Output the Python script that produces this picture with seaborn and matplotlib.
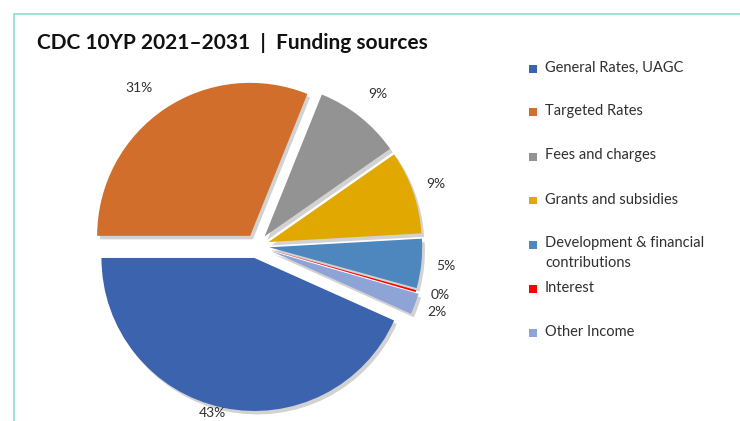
import textwrap
import matplotlib
matplotlib.use("Agg")
import matplotlib.pyplot as plt
import matplotlib.patheffects as pe
from matplotlib.patches import Rectangle
from matplotlib.lines import Line2D
import numpy as np
import seaborn as sns

# Funding sources, share of total (%)
categories = [
    "General Rates, UAGC",
    "Targeted Rates",
    "Fees and charges",
    "Grants and subsidies",
    "Development & financial contributions",
    "Interest",
    "Other Income",
]
shares = [43.3, 31.1, 9.2, 8.8, 5.2, 0.2, 2.2]
title = "CDC 10YP 2021\u20132031  |  Funding sources"

palette = sns.color_palette(
    ["#3c64ae", "#d26e2b", "#939393", "#e0a800", "#4e87be", "#ff0000", "#8fa4d6"]
)

sns.set_theme(style="white")
plt.rcParams["font.family"] = ["Lato", "DejaVu Sans"]

W, H = 740, 421
fig = plt.figure(figsize=(W / 100, H / 100), dpi=100)
fig.patch.set_facecolor("white")

# chart frame (left and top edges)
frame_col = "#8fdcd0"
fig.add_artist(Line2D([14 / W, 14 / W], [0, 1 - 14 / H], color=frame_col, lw=1.2,
                      transform=fig.transFigure))
fig.add_artist(Line2D([14 / W, 1], [1 - 14 / H, 1 - 14 / H], color=frame_col, lw=1.2,
                      transform=fig.transFigure))

fig.text(37 / W, 1 - 43 / H, title, fontsize=15, fontweight="bold",
         color="#111111", va="center", ha="left")

# pie axes: 1 data unit = R pixels, centred at (cx, cy) in pixel coords
R = 153
cx, cy = 257, 246
half = 1.6
ax = fig.add_axes([(cx - half * R) / W, (H - cy - half * R) / H,
                   2 * half * R / W, 2 * half * R / H])

start = 180 + 360 * shares[0] / 100.0
explode = [0.08, 0.08, 0.08, 0.08, 0.08, 0.08, 0.1]
wedges, _ = ax.pie(
    shares, colors=palette, startangle=start, counterclock=False,
    explode=explode, radius=1.0,
    wedgeprops=dict(linewidth=0, clip_on=False),
)
ax.set_xlim(-half, half)
ax.set_ylim(-half, half)
ax.set_aspect("equal")
ax.axis("off")

shadow = [pe.SimplePatchShadow(offset=(2, -2.5), shadow_rgbFace="#808080", alpha=0.35),
          pe.Normal()]
for w in wedges:
    w.set_path_effects(shadow)

# percentage labels just outside each slice
label_dist = [1.05, 1.21, 1.19, 1.16, 1.16, 1.16, 1.15]
angle_adj = [-3, 3, 0, 0, 0, 1, 0]
for w, v, d, da in zip(wedges, shares, label_dist, angle_adj):
    mid = np.deg2rad((w.theta1 + w.theta2) / 2 + da)
    x0, y0 = w.center
    ax.text(x0 + d * np.cos(mid), y0 + d * np.sin(mid), f"{v:.0f}%",
            ha="center", va="center", fontsize=10, color="#303030")

# legend
lx, ly0, pitch = 533, 68, 44
for i, (name, col) in enumerate(zip(categories, palette)):
    y = ly0 + i * pitch
    fig.add_artist(Rectangle(((lx - 4) / W, 1 - (y + 4.5) / H), 8 / W, 8 / H,
                             facecolor=col, edgecolor="none",
                             transform=fig.transFigure))
    fig.text((lx + 12) / W, 1 - (y - 7.5) / H, textwrap.fill(name, 24),
             fontsize=10.5, color="#303030", ha="left", va="top",
             linespacing=1.5)

fig.savefig("out.png", dpi=100, facecolor="white")
